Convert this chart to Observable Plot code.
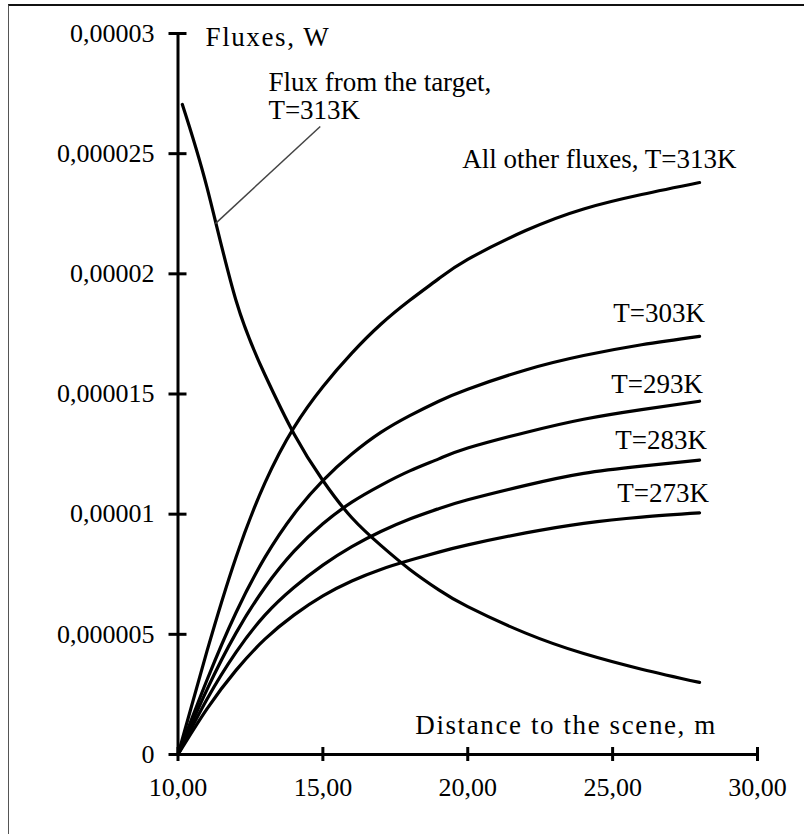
<!DOCTYPE html>
<html><head><meta charset="utf-8">
<script src="https://cdn.jsdelivr.net/npm/d3@7"></script>
<script src="https://cdn.jsdelivr.net/npm/@observablehq/plot@0.6"></script>
<style>
html,body{margin:0;padding:0;background:#fff;overflow:hidden;}
#wrap{position:relative;width:804px;height:834px;}
#frame{position:absolute;left:8px;top:4px;width:900px;height:900px;border-left:1.5px solid #555;border-top:2px solid #111;pointer-events:none;}
</style></head><body><div id="wrap"><div id="frame"></div></div>
<script>
// Distance to the scene, m
const distance = [10, 11, 12, 13, 14, 15, 16, 17, 18, 19, 20, 22, 24, 26, 28];
// All other fluxes (values in units of 1e-6 W)
const flux313 = [0, 4.3, 8.2, 11.3, 13.6, 15.3, 16.7, 17.9, 18.9, 19.8, 20.6, 21.8, 22.7, 23.3, 23.8];
const flux303 = [0, 3.1, 5.9, 8.2, 10.0, 11.4, 12.5, 13.4, 14.1, 14.7, 15.2, 16.0, 16.6, 17.05, 17.4];
const flux293 = [0, 2.7, 5.05, 6.95, 8.45, 9.6, 10.5, 11.2, 11.8, 12.3, 12.75, 13.4, 13.95, 14.35, 14.7];
const flux283 = [0, 2.3, 4.25, 5.8, 6.95, 7.88, 8.65, 9.28, 9.8, 10.23, 10.6, 11.2, 11.7, 12.0, 12.25];
const flux273 = [0, 1.9, 3.5, 4.8, 5.8, 6.6, 7.22, 7.7, 8.08, 8.42, 8.72, 9.22, 9.62, 9.88, 10.05];
// Flux from the target, T=313K
const targetDistance = [10.15, 11, 12, 13, 14, 15, 16, 17, 18, 19, 20, 22, 24, 26, 28];
const targetFlux = [27.05, 23.6, 18.9, 15.8, 13.35, 11.4, 9.85, 8.7, 7.7, 6.85, 6.15, 5.05, 4.2, 3.55, 3.0];

const xTicks = [10, 15, 20, 25, 30];
const xTickLabels = ["10,00", "15,00", "20,00", "25,00", "30,00"];
const yTicks = [0, 5, 10, 15, 20, 25, 30];
const yTickLabels = ["0", "0,000005", "0,00001", "0,000015", "0,00002", "0,000025", "0,00003"];

const seriesNames = ["313K", "303K", "293K", "283K", "273K"];
const seriesValues = [flux313, flux303, flux293, flux283, flux273];

// annotation texts and anchor points (data coordinates)
const labelTexts = ["Flux from the target,\nT=313K", "All other fluxes, T=313K", "T=303K", "T=293K", "T=283K", "T=273K"];
const labelX = [13.12, 19.81, 25.02, 24.95, 25.09, 25.16];
const labelY = [27.38, 24.76, 18.39, 15.40, 13.07, 10.90];
const titleTexts = ["Fluxes, W", "Distance to the scene, m"];
const titleX = [10.95, 18.19];
const titleY = [29.84, 1.21];
const leader = [{x1: 14.91, y1: 26.13, x2: 11.29, y2: 22.09}];

const rows = [];
seriesNames.forEach((s, k) => distance.forEach((d, i) => rows.push({series: s, d, v: seriesValues[k][i]})));
targetDistance.forEach((d, i) => rows.push({series: "target", d, v: targetFlux[i]}));
const labels = labelTexts.map((t, i) => ({t, x: labelX[i], y: labelY[i]}));
const titles = titleTexts.map((t, i) => ({t, x: titleX[i], y: titleY[i]}));

const chart = Plot.plot({
  width: 804, height: 834,
  marginLeft: 177.5, marginRight: 47, marginTop: 33, marginBottom: 80,
  x: {domain: [10, 30]},
  y: {domain: [0, 30]},
  style: {fontFamily: "'Liberation Serif', 'Times New Roman', serif", fontSize: "26px", background: "transparent", color: "#000"},
  marks: [
    Plot.axisY(yTicks, {tickSize: 0, tickPadding: 23.5, label: null, fontSize: 26, tickFormat: d => yTickLabels[yTicks.indexOf(d)]}),
    Plot.axisX(xTicks, {tickSize: 0, tickPadding: 23, label: null, fontSize: 26, tickFormat: d => xTickLabels[xTicks.indexOf(d)]}),
    Plot.line(rows, {x: "d", y: "v", z: "series", stroke: "#000", strokeWidth: 3.2, curve: "natural"}),
    Plot.ruleX([10], {y1: 0, y2: 30, strokeWidth: 3, stroke: "#000", insetBottom: -1.5}),
    Plot.ruleY([0], {x1: 10, x2: 30, strokeWidth: 3, stroke: "#000", insetLeft: -1.5, insetRight: -1.5}),
    Plot.ruleY(yTicks, {x1: 10, x2: 10, insetLeft: -9, insetRight: -9, strokeWidth: 3, stroke: "#000"}),
    Plot.ruleX(xTicks, {y1: 0, y2: 0, insetTop: -7, insetBottom: -7, strokeWidth: 3, stroke: "#000"}),
    Plot.link(leader, {x1: "x1", y1: "y1", x2: "x2", y2: "y2", stroke: "#444", strokeWidth: 1.5}),
    Plot.text(labels, {x: "x", y: "y", text: "t", textAnchor: "start", lineAnchor: "middle", lineHeight: 1.04, fontSize: 27, fill: "#000"}),
    Plot.text(titles, {x: "x", y: "y", text: "t", textAnchor: "start", lineAnchor: "middle", fontSize: 27, fill: "#000"})
  ]
});
d3.select(chart).selectAll("text").filter(function() { return titleTexts.includes(this.textContent); })
  .style("letter-spacing", "1.6px");
document.getElementById("wrap").prepend(chart);
</script></body></html>
